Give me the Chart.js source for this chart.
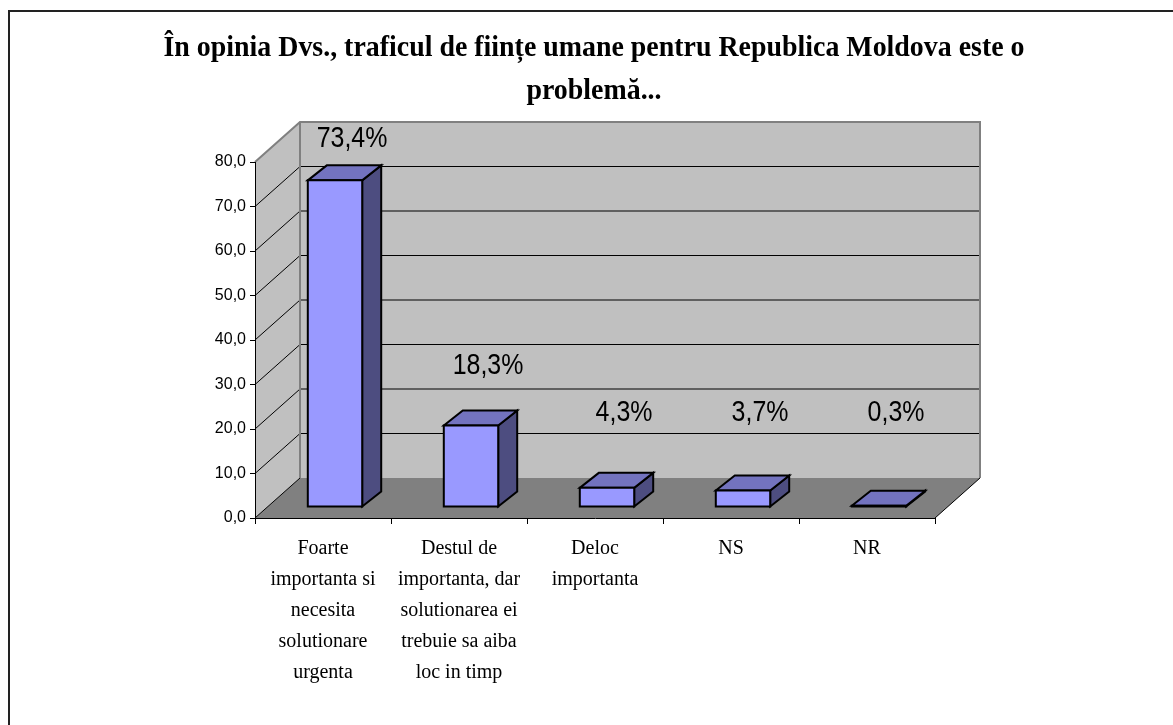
<!DOCTYPE html>
<html>
<head>
<meta charset="utf-8">
<title>Traficul de ființe umane</title>
<script src="https://cdn.jsdelivr.net/npm/chart.js@4"></script>
<style>
  html, body { margin: 0; padding: 0; background: #fff; }
  canvas { display: block; }
</style>
</head>
<body>
<canvas id="chart" width="1173" height="725"></canvas>
<script>
// data
const titleLines = [
  'În opinia Dvs., traficul de ființe umane pentru Republica Moldova este o',
  'problemă...'
];
const categories = [
  ['Foarte', 'importanta si', 'necesita', 'solutionare', 'urgenta'],
  ['Destul de', 'importanta, dar', 'solutionarea ei', 'trebuie sa aiba', 'loc in timp'],
  ['Deloc', 'importanta'],
  ['NS'],
  ['NR']
];
const values = [73.4, 18.3, 4.3, 3.7, 0.3];
const yTicks = [0, 10, 20, 30, 40, 50, 60, 70, 80];

// 3d look
const depth = { x: 45, y: 40 };
const barFront = { x: 12, y: 11 };
const barBack = { x: 31, y: 26 };
const colors = { front: '#9999FF', top: '#7373BF', side: '#4D4D80', wall: '#C0C0C0', floor: '#808080', edge: '#808080' };

function poly(ctx, pts, fill, stroke, lw) {
  ctx.beginPath();
  ctx.moveTo(pts[0][0], pts[0][1]);
  for (let i = 1; i < pts.length; i++) ctx.lineTo(pts[i][0], pts[i][1]);
  ctx.closePath();
  if (fill) { ctx.fillStyle = fill; ctx.fill(); }
  if (stroke) { ctx.strokeStyle = stroke; ctx.lineWidth = lw || 1; ctx.stroke(); }
}
function line(ctx, x1, y1, x2, y2, color, lw) {
  ctx.beginPath();
  ctx.moveTo(x1, y1);
  ctx.lineTo(x2, y2);
  ctx.strokeStyle = color;
  ctx.lineWidth = lw || 1;
  ctx.stroke();
}

const wallsPlugin = {
  id: 'walls',
  beforeDraw(chart) {
    const { ctx, chartArea: a, scales: { y } } = chart;
    const dx = depth.x, dy = depth.y;
    const top = y.getPixelForValue(yTicks[yTicks.length - 1]);
    const bot = y.getPixelForValue(0);
    ctx.save();
    ctx.fillStyle = '#fff';
    ctx.fillRect(0, 0, chart.width, chart.height);

    // chart frame (right/bottom cut off)
    ctx.strokeStyle = '#222';
    ctx.lineWidth = 2;
    ctx.strokeRect(9, 11, chart.width + 20, chart.height + 20);

    // title
    ctx.save();
    ctx.fillStyle = '#000';
    ctx.font = 'bold 30px "Liberation Serif"';
    ctx.textAlign = 'center';
    ctx.textBaseline = 'alphabetic';
    ctx.scale(0.93, 1);
    titleLines.forEach((t, i) => ctx.fillText(t, 594 / 0.93, 56 + i * 43));
    ctx.restore();

    // walls and floor
    poly(ctx, [[a.left, top], [a.left + dx, top - dy], [a.left + dx, bot - dy], [a.left, bot]], colors.wall);
    poly(ctx, [[a.left + dx, top - dy], [a.right + dx, top - dy], [a.right + dx, bot - dy], [a.left + dx, bot - dy]], colors.wall);
    poly(ctx, [[a.left, bot], [a.right, bot], [a.right + dx, bot - dy], [a.left + dx, bot - dy]], colors.floor);

    // gridlines on back and side wall
    yTicks.forEach(v => {
      if (v === yTicks[yTicks.length - 1]) return;
      const py = y.getPixelForValue(v);
      line(ctx, a.left, py, a.left + dx, py - dy, '#000', 1);
      if (v > 0) line(ctx, a.left + dx, py - dy, a.right + dx, py - dy, '#000', 1);
    });

    // wall edges
    ctx.lineJoin = 'miter';
    ctx.beginPath();
    ctx.moveTo(a.left, top);
    ctx.lineTo(a.left + dx, top - dy);
    ctx.lineTo(a.right + dx, top - dy);
    ctx.lineTo(a.right + dx, bot - dy);
    ctx.moveTo(a.left + dx, top - dy);
    ctx.lineTo(a.left + dx, bot - dy);
    ctx.strokeStyle = colors.edge;
    ctx.lineWidth = 2;
    ctx.stroke();
    line(ctx, a.right, bot, a.right + dx, bot - dy, '#000', 1);
    ctx.restore();
  }
};

const barsPlugin = {
  id: 'bars3d',
  afterDatasetsDraw(chart) {
    const { ctx, chartArea: a, scales: { y } } = chart;
    const meta = chart.getDatasetMeta(0);
    const ox = barBack.x - barFront.x, oy = barBack.y - barFront.y;
    ctx.save();
    ctx.lineJoin = 'miter';
    meta.data.forEach((bar, i) => {
      const p = bar.getProps(['x', 'y', 'base', 'width'], true);
      const l = p.x - p.width / 2 + barFront.x, r = p.x + p.width / 2 + barFront.x;
      const t = p.y - barFront.y, b = p.base - barFront.y;
      poly(ctx, [[r, t], [r + ox, t - oy], [r + ox, b - oy], [r, b]], colors.side, '#000', 2);
      poly(ctx, [[l, t], [l + ox, t - oy], [r + ox, t - oy], [r, t]], colors.top, '#000', 2);
      poly(ctx, [[l, t], [r, t], [r, b], [l, b]], colors.front, '#000', 2);

      // value label
      const ly = Math.max(a.top - 23, Math.min(t - 60, y.getPixelForValue(0) - 105));
      ctx.save();
      ctx.fillStyle = '#000';
      ctx.font = '29px "Liberation Sans"';
      ctx.textAlign = 'center';
      ctx.textBaseline = 'middle';
      ctx.translate(p.x + 29, ly);
      ctx.scale(0.86, 1);
      ctx.fillText(values[i].toFixed(1).replace('.', ',') + '%', 0, 0);
      ctx.restore();
    });
    ctx.restore();
  }
};

new Chart(document.getElementById('chart'), {
  type: 'bar',
  data: {
    labels: categories,
    datasets: [{
      data: values,
      backgroundColor: 'rgba(0,0,0,0)',
      borderWidth: 0,
      barPercentage: 0.4,
      categoryPercentage: 1.0
    }]
  },
  options: {
    responsive: false,
    animation: false,
    devicePixelRatio: 1,
    layout: { padding: { top: 162, left: 0, right: 238, bottom: 0 } },
    plugins: {
      legend: { display: false },
      title: { display: false },
      tooltip: { enabled: false }
    },
    scales: {
      x: {
        afterFit(scale) { scale.height = 207; },
        grid: { drawOnChartArea: false, color: '#000', tickLength: 6, offset: true },
        border: { color: '#000', width: 1 },
        ticks: {
          color: '#000',
          autoSkip: false,
          maxRotation: 0,
          padding: 9,
          font: { family: '"Liberation Serif"', size: 20, lineHeight: 1.55 }
        }
      },
      y: {
        min: 0,
        max: 80,
        afterFit(scale) { scale.width = 255; },
        afterBuildTicks(scale) { scale.ticks = yTicks.map(v => ({ value: v })); },
        grid: { drawOnChartArea: false, color: '#000', tickLength: 5 },
        border: { color: '#000', width: 1 },
        ticks: {
          color: '#000',
          padding: 4,
          font: { family: '"Liberation Sans"', size: 16 },
          callback: v => v.toFixed(1).replace('.', ',')
        }
      }
    }
  },
  plugins: [wallsPlugin, barsPlugin]
});
</script>
</body>
</html>
